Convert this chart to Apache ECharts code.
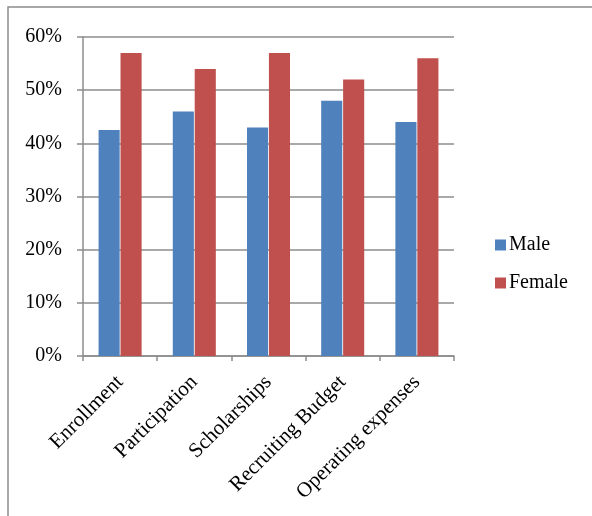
<!DOCTYPE html>
<html>
<head>
<meta charset="utf-8">
<script src="https://cdn.jsdelivr.net/npm/echarts@6/dist/echarts.min.js"></script>
<style>
    html, body { margin: 0; padding: 0; background: #fff; }
    #chart { width: 592px; height: 516px; }
</style>
</head>
<body>
<div id="chart"></div>
<script>
(function (window) {
    "use strict";
    var categories = ['Enrollment', 'Participation', 'Scholarships', 'Recruiting Budget', 'Operating expenses'];
    var male = [42.5, 46, 43, 48, 44];
    var female = [57, 54, 57, 52, 56];
    var yTicks = { min: 0, max: 60, step: 10 };

    var font = 'Liberation Serif';
    var gray = '#8c8c8c';

    var chart = echarts.init(document.getElementById('chart'));
    var option = {
        animation: false,
        backgroundColor: '#fff',
        graphic: [{
            type: 'rect',
            shape: { x: 8, y: 7, width: 800, height: 800 },
            style: { fill: 'none', stroke: gray, lineWidth: 1.5 }
        }],
        grid: { left: 83, right: 138, top: 37, bottom: 160 },
        legend: {
            orient: 'vertical',
            left: 495,
            top: 235,
            padding: 0,
            itemWidth: 11,
            itemHeight: 11,
            itemGap: 18,
            icon: 'rect',
            textStyle: { fontFamily: font, fontSize: 20, color: '#000', padding: [0, 0, 0, -2] },
            data: ['Male', 'Female']
        },
        xAxis: {
            type: 'category',
            data: categories,
            axisLine: { lineStyle: { color: gray, width: 1.5 } },
            axisTick: { show: true, length: 5, lineStyle: { color: gray, width: 1.5 } },
            axisLabel: {
                interval: 0,
                rotate: 45,
                margin: 23,
                fontFamily: font,
                fontSize: 21,
                color: '#000'
            }
        },
        yAxis: {
            type: 'value',
            min: yTicks.min,
            max: yTicks.max,
            interval: yTicks.step,
            axisLine: { show: true, lineStyle: { color: gray, width: 1.5 } },
            axisTick: { show: true, length: 6, lineStyle: { color: gray, width: 1.5 } },
            splitLine: { lineStyle: { color: gray, width: 1.5 } },
            axisLabel: {
                formatter: '{value}%',
                margin: 21,
                fontFamily: font,
                fontSize: 20,
                color: '#000'
            }
        },
        series: [{
            name: 'Male',
            type: 'bar',
            data: male,
            barGap: '4%',
            barCategoryGap: '42%',
            itemStyle: { color: '#4f81bd' }
        }, {
            name: 'Female',
            type: 'bar',
            data: female,
            itemStyle: { color: '#c0504d' }
        }]
    };
    chart.setOption(option);
})(window);
</script>
</body>
</html>
